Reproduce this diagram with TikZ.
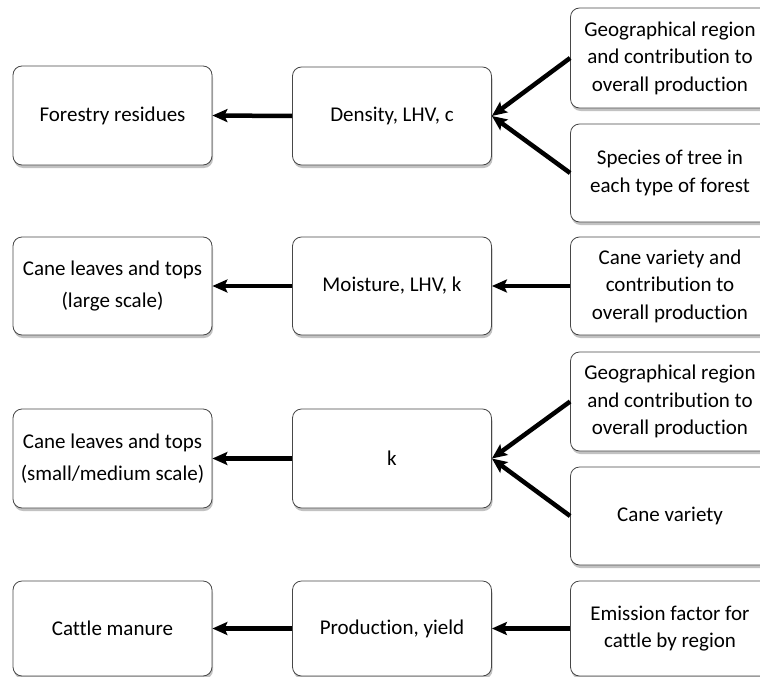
\documentclass[tikz,border=0pt]{standalone}
\usepackage{fontspec}
\setmainfont{Carlito}[RawFeature=-liga]
\usetikzlibrary{arrows.meta,shadows}
\begin{document}
\begin{tikzpicture}[x=1pt,y=-1pt,
  box/.style={draw=black!72, line width=0.8pt, rounded corners=9pt, fill=white,
    minimum width=199pt, inner sep=0pt, align=center,
    font=\fontsize{21}{27.5}\selectfont,
    drop shadow={shadow xshift=1pt, shadow yshift=-3pt, opacity=0.4, fill=black!60}},
  wide/.style={font=\fontsize{21}{32}\selectfont},
  flow/.style={line width=4.5pt, -{Stealth[length=15pt,width=13pt,inset=3pt]}}]
\useasboundingbox (0,0) rectangle (760,677);
\clip (0,0) rectangle (760,677);

% forestry residues chain
\node[box, minimum height=99pt] (L1) at (112.5,115.5) {Forestry residues};
\node[box, minimum height=98pt] (M1) at (392,116) {Density, LHV, c};
\node[box, minimum height=100pt] (R1a) at (670,58) {Geographical region\\and contribution to\\overall production};
\node[box, minimum height=98pt] (R1b) at (670,173) {Species of tree in\\each type of forest};

% large-scale cane residues
\node[box, wide, minimum height=98pt] (L2) at (112.5,286) {Cane leaves and tops\\(large scale)};
\node[box, minimum height=98pt] (M2) at (392,286) {Moisture, LHV, k};
\node[box, minimum height=98pt] (R2) at (670,286) {Cane variety and\\contribution to\\overall production};

% small/medium-scale cane residues
\node[box, wide, minimum height=99pt] (L3) at (112.5,458.5) {Cane leaves and tops\\(small/medium scale)};
\node[box, minimum height=99pt] (M3) at (392,458.5) {k};
\node[box, minimum height=99pt] (R3a) at (670,401.5) {Geographical region\\and contribution to\\overall production};
\node[box, minimum height=98pt] (R3b) at (670,516) {Cane variety};

% cattle manure
\node[box, minimum height=95pt] (L4) at (112.5,628.5) {Cattle manure};
\node[box, minimum height=95pt] (M4) at (392,628.5) {Production, yield};
\node[box, minimum height=95pt] (R4) at (670,628.5) {Emission factor for\\cattle by region};

% connectors
\draw[flow] (M1.west) -- (L1.east);
\draw[flow] (R1a.west) -- (M1.east);
\draw[flow] (R1b.west) -- (M1.east);
\draw[flow] (M2.west) -- (L2.east);
\draw[flow] (R2.west) -- (M2.east);
\draw[flow] (M3.west) -- (L3.east);
\draw[flow] (R3a.west) -- (M3.east);
\draw[flow] (R3b.west) -- (M3.east);
\draw[flow] (M4.west) -- (L4.east);
\draw[flow] (R4.west) -- (M4.east);
\end{tikzpicture}
\end{document}
